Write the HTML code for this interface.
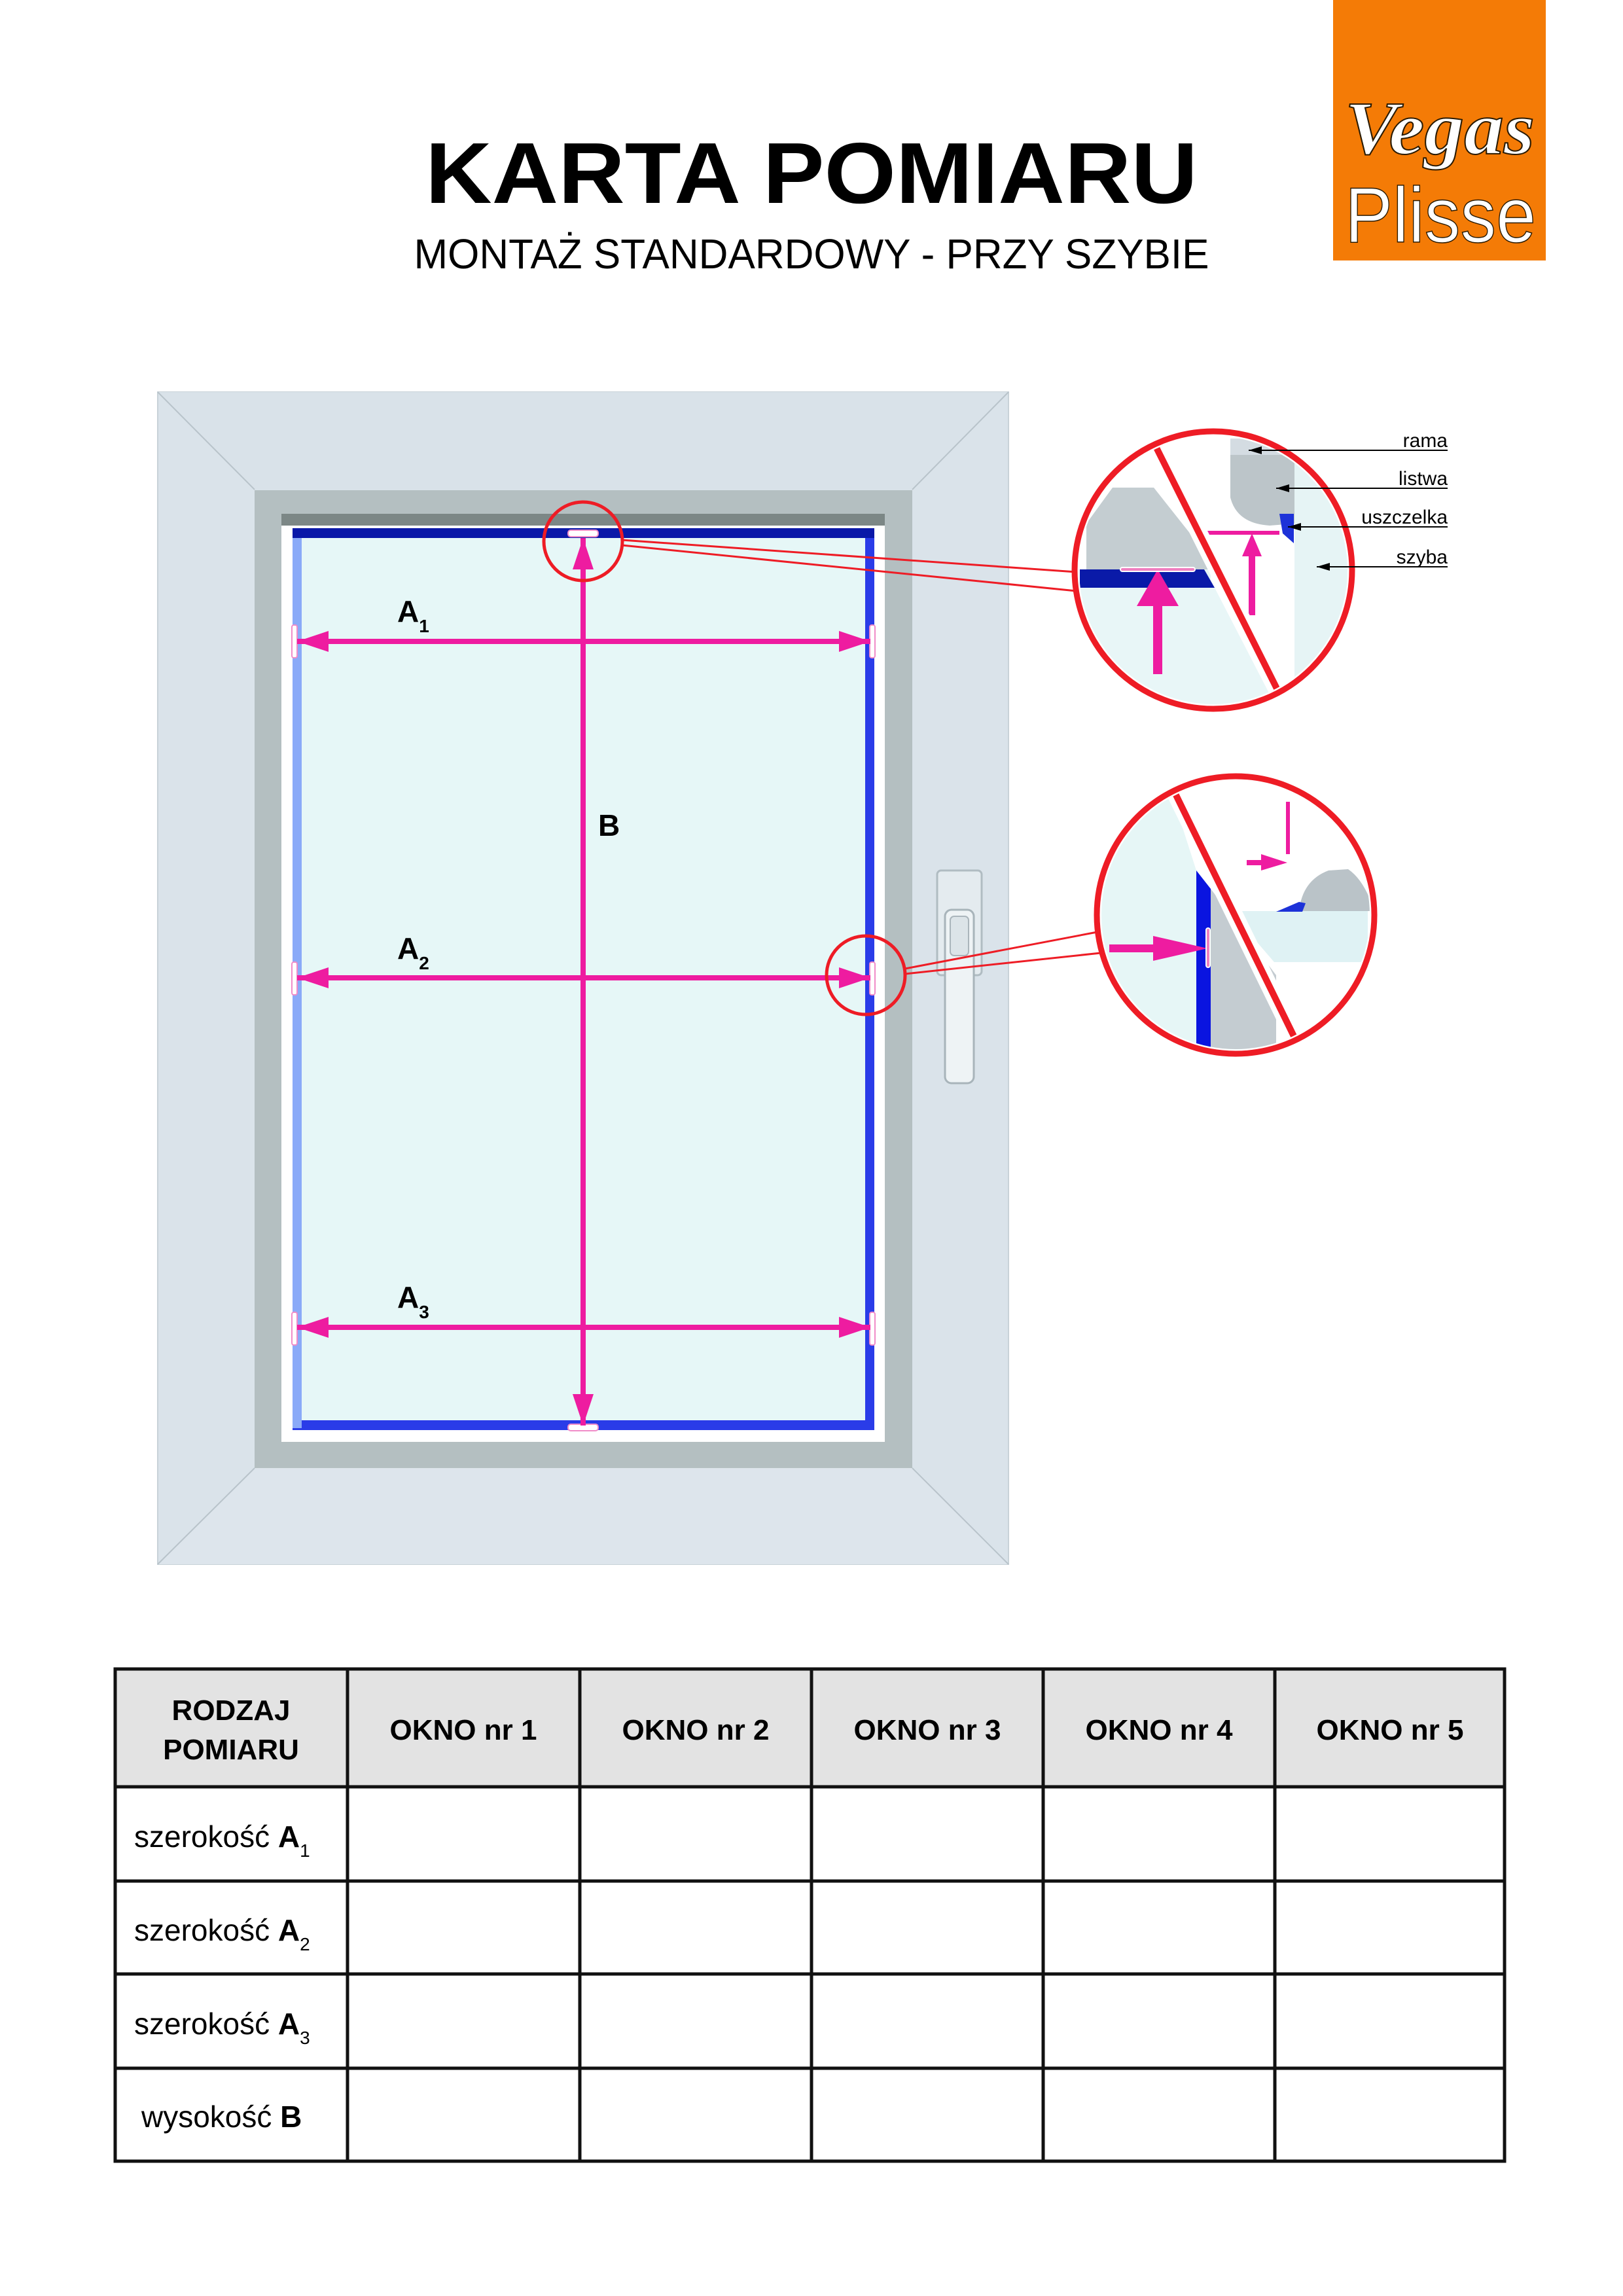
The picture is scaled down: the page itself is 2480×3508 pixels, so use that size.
<!DOCTYPE html>
<html><head><meta charset="utf-8"><style>
html,body{margin:0;padding:0;background:#fff}
body{width:2480px;height:3508px;position:relative;overflow:hidden;font-family:"Liberation Sans",sans-serif}
svg{position:absolute;left:0;top:0}
</style></head><body>
<svg width="2480" height="3508" viewBox="0 0 2480 3508" xmlns="http://www.w3.org/2000/svg">
<defs>
<marker id="ah" markerWidth="6" markerHeight="4" refX="6" refY="2" orient="auto" markerUnits="strokeWidth"><path d="M0,0 L6,2 L0,4z" fill="#ee1ca0"/></marker>
<marker id="sa" markerWidth="10" markerHeight="6" refX="10" refY="3" orient="auto" markerUnits="strokeWidth"><path d="M0,0 L10,3 L0,6z" fill="#000"/></marker>
<clipPath id="c1"><circle cx="1854" cy="871" r="205"/></clipPath>
<clipPath id="c2"><circle cx="1888" cy="1398" r="205"/></clipPath>
</defs>
<!-- logo -->
<rect x="2037" y="0" width="325" height="398" fill="#f47b06"/>
<text x="2055" y="235" font-family="Liberation Serif,serif" font-style="italic" font-weight="bold" font-size="115" fill="#fff" stroke="#2a1a00" stroke-width="2" textLength="290" lengthAdjust="spacingAndGlyphs">Vegas</text>
<text x="2055" y="370" font-size="120" fill="#fff" stroke="#2a1a00" stroke-width="1.5" textLength="292" lengthAdjust="spacingAndGlyphs">Plisse</text>
<!-- title -->
<text x="1240" y="310" text-anchor="middle" font-weight="bold" font-size="132" textLength="1180" lengthAdjust="spacingAndGlyphs">KARTA POMIARU</text>
<text x="1240" y="410" text-anchor="middle" font-size="64" textLength="1215" lengthAdjust="spacingAndGlyphs">MONTAŻ STANDARDOWY - PRZY SZYBIE</text>
<!-- outer frame -->
<rect x="241" y="599" width="1300" height="1791" fill="#dae3ea" stroke="#c8d2d8" stroke-width="2"/>
<polygon points="241,599 1541,599 1394,748 389,748" fill="#d9e2e9"/>
<polygon points="241,2390 1541,2390 1394,2243 389,2243" fill="#dde5ec"/>
<line x1="241" y1="599" x2="389" y2="748" stroke="#b8c3ca" stroke-width="2"/>
<line x1="1541" y1="599" x2="1394" y2="748" stroke="#b8c3ca" stroke-width="2"/>
<line x1="241" y1="2390" x2="389" y2="2243" stroke="#b8c3ca" stroke-width="2"/>
<line x1="1541" y1="2390" x2="1394" y2="2243" stroke="#b8c3ca" stroke-width="2"/>
<!-- sash -->
<rect x="389" y="749" width="1005" height="1494" fill="#b4bfc1"/>
<rect x="430" y="785" width="922" height="18" fill="#7c8786"/>
<rect x="430" y="803" width="922" height="1400" fill="#fff"/>
<rect x="447" y="807" width="889" height="1378" fill="#2a3ce8"/>
<rect x="447" y="807" width="889" height="15" fill="#0a18a8"/>
<rect x="447" y="822" width="14" height="1360" fill="#8aaaf8"/>
<rect x="461" y="822" width="861" height="1348" fill="#e6f7f7"/>
<!-- handle -->
<rect x="1432" y="1330" width="68" height="160" rx="6" fill="#e4ebef" stroke="#b0bcc2" stroke-width="3"/>
<rect x="1444" y="1390" width="44" height="265" rx="10" fill="#eef3f5" stroke="#a8b4ba" stroke-width="3"/>
<rect x="1452" y="1400" width="28" height="60" rx="6" fill="#dce4e8" stroke="#aab5bb" stroke-width="2"/>
<!-- clips on glass -->
<g fill="#fff" stroke="#f08cc8" stroke-width="2">
<rect x="868" y="810" width="46" height="10" rx="4"/><rect x="868" y="2176" width="46" height="10" rx="4"/>
<rect x="446" y="955" width="8" height="50" rx="3"/><rect x="1329" y="955" width="8" height="50" rx="3"/>
<rect x="446" y="1470" width="8" height="50" rx="3"/><rect x="1329" y="1470" width="8" height="50" rx="3"/>
<rect x="446" y="2005" width="8" height="50" rx="3"/><rect x="1329" y="2005" width="8" height="50" rx="3"/>
</g>
<!-- dimension lines -->
<g stroke="#ee1ca0" stroke-width="8" fill="none">
<line x1="891" y1="2170" x2="891" y2="822" marker-end="url(#ah)"/>
<line x1="891" y1="822" x2="891" y2="2178" marker-end="url(#ah)"/>
<line x1="890" y1="980" x2="454" y2="980" marker-end="url(#ah)"/>
<line x1="892" y1="980" x2="1330" y2="980" marker-end="url(#ah)"/>
<line x1="890" y1="1494" x2="454" y2="1494" marker-end="url(#ah)"/>
<line x1="892" y1="1494" x2="1330" y2="1494" marker-end="url(#ah)"/>
<line x1="890" y1="2028" x2="454" y2="2028" marker-end="url(#ah)"/>
<line x1="892" y1="2028" x2="1330" y2="2028" marker-end="url(#ah)"/>
</g>
<g font-weight="bold" font-size="46">
<text x="607" y="950">A<tspan font-size="28" dy="16">1</tspan></text>
<text x="607" y="1465">A<tspan font-size="28" dy="16">2</tspan></text>
<text x="607" y="1998">A<tspan font-size="28" dy="16">3</tspan></text>
<text x="914" y="1277">B</text>
</g>
<!-- small circles & callout lines -->
<g stroke="#ee1c25" fill="none">
<circle cx="891" cy="827" r="60" stroke-width="5"/>
<circle cx="1323" cy="1490" r="60" stroke-width="5"/>
<line x1="950" y1="825" x2="1645" y2="874" stroke-width="3"/>
<line x1="950" y1="833" x2="1645" y2="903" stroke-width="3"/>
<line x1="1383" y1="1480" x2="1682" y2="1423" stroke-width="3"/>
<line x1="1383" y1="1488" x2="1682" y2="1456" stroke-width="3"/>
</g>
<!-- detail circle 1 -->
<circle cx="1854" cy="871" r="212" fill="#fff"/>
<g clip-path="url(#c1)">
<rect x="1640" y="650" width="440" height="450" fill="#fff"/>
<polygon points="1700,745 1763,745 1862,870 1660,870 1660,800" fill="#c4cdd1"/>
<rect x="1650" y="870" width="200" height="160" fill="#e6f6f6"/>
<polygon points="1650,870 1840,870 1856,898 1650,898" fill="#0a1aa8"/>
<polygon points="1650,898 1856,898 1950,1080 1650,1080" fill="#e8f6f7"/>
<rect x="1880" y="670" width="100" height="25" fill="#d4dce2"/>
<path d="M1880,695 L1978,695 L1978,800 L1940,803 Q1890,800 1880,760 Z" fill="#bcc5c9"/>
<rect x="1978" y="690" width="100" height="400" fill="#e6f4f5"/>
<polygon points="1955,785 1977,785 1977,830 1960,815" fill="#1d32d8"/>
<rect x="1843" y="811" width="112" height="6" fill="#ee1ca0"/>
<rect x="1908" y="845" width="10" height="95" fill="#ee1ca0"/>
<polygon points="1913,815 1898,850 1928,850" fill="#ee1ca0"/>
<rect x="1762" y="920" width="14" height="110" fill="#ee1ca0"/>
<polygon points="1769,870 1737,926 1801,926" fill="#ee1ca0"/>
<rect x="1712" y="867" width="114" height="6" rx="3" fill="#f080c0" stroke="#fff" stroke-width="2"/>
<line x1="1750" y1="650" x2="1975" y2="1100" stroke="#fff" stroke-width="26"/>
<line x1="1750" y1="650" x2="1975" y2="1100" stroke="#ee1c25" stroke-width="10"/>
</g>
<circle cx="1854" cy="871" r="212" fill="none" stroke="#ee1c25" stroke-width="9"/>
<!-- labels -->
<g font-size="30" text-anchor="end">
<text x="2212" y="683">rama</text><text x="2212" y="741">listwa</text>
<text x="2212" y="800">uszczelka</text><text x="2212" y="861">szyba</text>
</g>
<g stroke="#000" stroke-width="2" fill="none">
<line x1="2212" y1="688" x2="1908" y2="688" marker-end="url(#sa)"/>
<line x1="2212" y1="746" x2="1950" y2="746" marker-end="url(#sa)"/>
<line x1="2212" y1="805" x2="1968" y2="805" marker-end="url(#sa)"/>
<line x1="2212" y1="866" x2="2012" y2="866" marker-end="url(#sa)"/>
</g>
<!-- detail circle 2 -->
<circle cx="1888" cy="1398" r="212" fill="#fff"/>
<g clip-path="url(#c2)">
<rect x="1670" y="1180" width="440" height="440" fill="#fff"/>
<polygon points="1670,1180 1780,1180 1828,1330 1828,1630 1670,1630" fill="#e6f6f6"/>
<polygon points="1828,1330 1850,1358 1850,1620 1828,1620" fill="#0a14e0"/>
<polygon points="1850,1358 1950,1490 1950,1620 1850,1620" fill="#c4ccd1"/>
<polygon points="1880,1392 2090,1392 2090,1470 1947,1470" fill="#dff2f4"/>
<path d="M1985,1392 Q1990,1345 2030,1330 L2060,1328 Q2085,1345 2100,1392 Z" fill="#bac3c8"/>
<polygon points="1950,1393 1985,1378 1995,1380 1990,1393" fill="#1d32d8"/>
<rect x="1965" y="1225" width="6" height="80" fill="#ee1ca0"/>
<rect x="1905" y="1314" width="40" height="8" fill="#ee1ca0"/>
<polygon points="1967,1318 1927,1305 1927,1330" fill="#ee1ca0"/>
<rect x="1695" y="1443" width="70" height="12" fill="#ee1ca0"/>
<polygon points="1845,1449 1762,1430 1762,1468" fill="#ee1ca0"/>
<rect x="1843" y="1418" width="6" height="60" rx="3" fill="#f080c0" stroke="#fff" stroke-width="2"/>
<line x1="1780" y1="1180" x2="1995" y2="1620" stroke="#fff" stroke-width="26"/>
<line x1="1780" y1="1180" x2="1995" y2="1620" stroke="#ee1c25" stroke-width="10"/>
</g>
<circle cx="1888" cy="1398" r="212" fill="none" stroke="#ee1c25" stroke-width="9"/>
<!-- table -->
<rect x="176" y="2550" width="2123" height="180" fill="#e3e3e3"/>
<g stroke="#111" stroke-width="5" fill="none">
<rect x="176" y="2550" width="2123" height="752"/>
<line x1="176" y1="2730" x2="2299" y2="2730"/>
<line x1="176" y1="2874" x2="2299" y2="2874"/>
<line x1="176" y1="3016" x2="2299" y2="3016"/>
<line x1="176" y1="3160" x2="2299" y2="3160"/>
<line x1="531" y1="2550" x2="531" y2="3302"/>
<line x1="886" y1="2550" x2="886" y2="3302"/>
<line x1="1240" y1="2550" x2="1240" y2="3302"/>
<line x1="1594" y1="2550" x2="1594" y2="3302"/>
<line x1="1948" y1="2550" x2="1948" y2="3302"/>
</g>
<g font-size="44" font-weight="bold" text-anchor="middle">
<text x="353" y="2628">RODZAJ</text><text x="353" y="2688">POMIARU</text>
<text x="708" y="2658">OKNO nr 1</text><text x="1063" y="2658">OKNO nr 2</text>
<text x="1417" y="2658">OKNO nr 3</text><text x="1771" y="2658">OKNO nr 4</text>
<text x="2124" y="2658">OKNO nr 5</text>
</g>
<g font-size="46">
<text x="205" y="2822">szerokość <tspan font-weight="bold">A</tspan><tspan font-size="28" dy="15">1</tspan></text>
<text x="205" y="2965">szerokość <tspan font-weight="bold">A</tspan><tspan font-size="28" dy="15">2</tspan></text>
<text x="205" y="3108">szerokość <tspan font-weight="bold">A</tspan><tspan font-size="28" dy="15">3</tspan></text>
<text x="216" y="3250">wysokość <tspan font-weight="bold">B</tspan></text>
</g>
</svg>
</body></html>
